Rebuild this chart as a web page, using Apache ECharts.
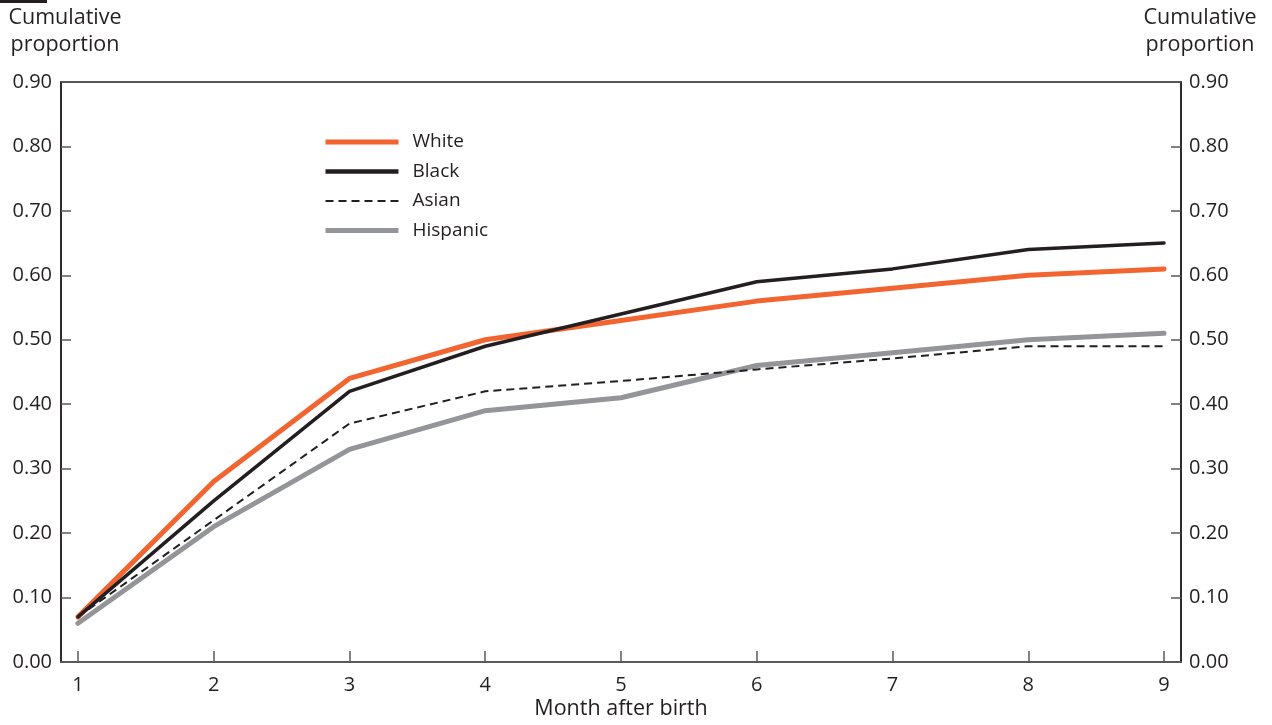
<!DOCTYPE html>
<html>
<head>
<meta charset="utf-8">
<style>
  html, body { margin: 0; padding: 0; background: #ffffff; }
  #chart { width: 1272px; height: 725px; }
</style>
<script src="https://cdn.jsdelivr.net/npm/echarts@6/dist/echarts.min.js"></script>
</head>
<body>
<div id="chart"></div>
<script>
const months = [1, 2, 3, 4, 5, 6, 7, 8, 9];
const white = [0.07, 0.28, 0.44, 0.50, 0.53, 0.56, 0.58, 0.60, 0.61];
const black = [0.07, 0.25, 0.42, 0.49, 0.54, 0.59, 0.61, 0.64, 0.65];
const asian = [0.07, 0.22, 0.37, 0.42, 0.436, 0.454, 0.471, 0.49, 0.49];
const hispanic = [0.06, 0.21, 0.33, 0.39, 0.41, 0.46, 0.48, 0.50, 0.51];
const yTicks = [0, 0.1, 0.2, 0.3, 0.4, 0.5, 0.6, 0.7, 0.8, 0.9];

const FONT = '"Open Sans", sans-serif';
const TXT = '#231f20';

const pairs = arr => months.map((m, i) => [m, arr[i]]);

const chart = echarts.init(document.getElementById('chart'), null, { renderer: 'canvas' });

const yAxisCommon = {
  type: 'value',
  min: 0,
  max: 0.9,
  interval: 0.1,
  axisLine: { show: true, lineStyle: { color: TXT, width: 1.5 } },
  axisTick: { show: true, inside: true, length: 10, lineStyle: { color: '#58595b', width: 1.5 } },
  splitLine: { show: false },
  axisLabel: {
    color: TXT, fontFamily: FONT, fontSize: 20,
    formatter: v => v.toFixed(2)
  }
};

const option = {
  backgroundColor: '#ffffff',
  animation: false,
  grid: {
    left: 61, right: 91, top: 82, bottom: 63,
    show: true, borderColor: TXT, borderWidth: 1.5, backgroundColor: 'transparent'
  },
  xAxis: {
    type: 'value',
    min: 0.875,
    max: 9.125,
    axisLine: { show: true, lineStyle: { color: '#58595b', width: 2 } },
    axisTick: { show: true, inside: true, length: 11, customValues: months, lineStyle: { color: '#58595b', width: 1.5 } },
    axisLabel: { customValues: months, color: TXT, fontFamily: FONT, fontSize: 20, margin: 13 },
    splitLine: { show: false }
  },
  yAxis: [
    Object.assign({}, yAxisCommon, { position: 'left', axisLabel: Object.assign({}, yAxisCommon.axisLabel, { margin: 9 }) }),
    Object.assign({}, yAxisCommon, { position: 'right', axisLabel: Object.assign({}, yAxisCommon.axisLabel, { margin: 8 }) })
  ],
  legend: {
    orient: 'vertical',
    left: 323,
    top: 132,
    padding: 0,
    itemWidth: 73,
    itemHeight: 14,
    itemGap: 9.5,
    textStyle: { color: TXT, fontFamily: FONT, fontSize: 19, lineHeight: 20, padding: [0, 0, 0, 9] },
    data: [
      { name: 'White', itemStyle: { opacity: 0 }, lineStyle: { width: 5, color: '#f26430', cap: 'butt' } },
      { name: 'Black', itemStyle: { opacity: 0 }, lineStyle: { width: 4.5, color: TXT, cap: 'butt' } },
      { name: 'Asian', itemStyle: { opacity: 0 }, lineStyle: { width: 2, color: TXT, type: [8, 5] } },
      { name: 'Hispanic', itemStyle: { opacity: 0 }, lineStyle: { width: 5, color: '#939598', cap: 'butt' } }
    ]
  },
  graphic: [
    { type: 'rect', left: 0, top: 0, shape: { width: 47, height: 3 }, style: { fill: TXT } },
    { type: 'text', x: 65, y: 4, style: { text: 'Cumulative\nproportion', fill: TXT, font: '21.5px ' + FONT, textAlign: 'center', lineHeight: 27 } },
    { type: 'text', x: 1200, y: 4, style: { text: 'Cumulative\nproportion', fill: TXT, font: '21.5px ' + FONT, textAlign: 'center', lineHeight: 27 } },
    { type: 'text', x: 621, y: 698, style: { text: 'Month after birth', fill: TXT, font: '21.5px ' + FONT, textAlign: 'center' } }
  ],
  series: [
    { name: 'Hispanic', type: 'line', data: pairs(hispanic), showSymbol: false, symbol: 'none', z: 2,
      lineStyle: { color: '#939598', width: 5, cap: 'round', join: 'round' }, itemStyle: { color: '#939598' } },
    { name: 'Asian', type: 'line', data: pairs(asian), showSymbol: false, symbol: 'none', z: 3,
      lineStyle: { color: TXT, width: 2, type: [8, 5] }, itemStyle: { color: TXT } },
    { name: 'White', type: 'line', data: pairs(white), showSymbol: false, symbol: 'none', z: 4,
      lineStyle: { color: '#f26430', width: 5, cap: 'round', join: 'round' }, itemStyle: { color: '#f26430' } },
    { name: 'Black', type: 'line', data: pairs(black), showSymbol: false, symbol: 'none', z: 5,
      lineStyle: { color: TXT, width: 3.5, cap: 'round', join: 'round' }, itemStyle: { color: TXT } }
  ]
};

chart.setOption(option);
</script>
</body>
</html>
